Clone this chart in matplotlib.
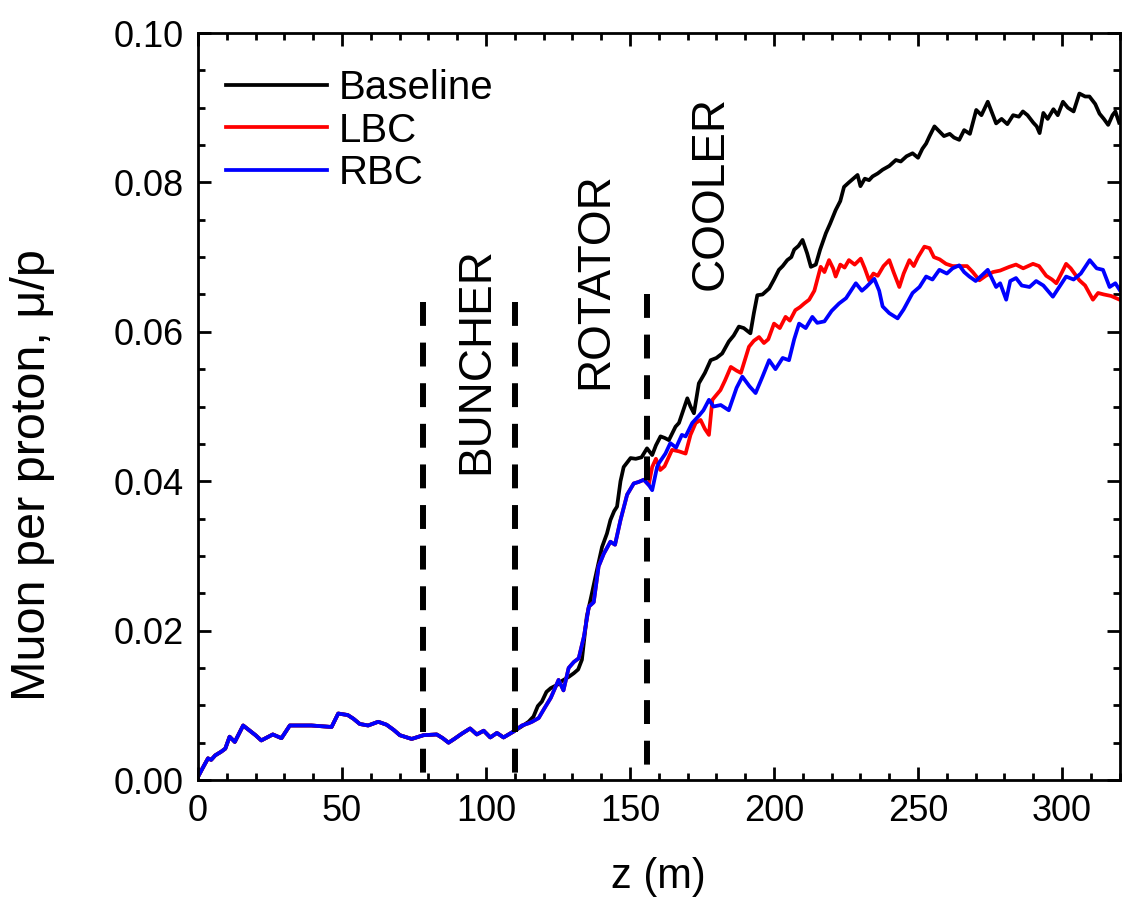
import numpy as np
import matplotlib
matplotlib.use("Agg")
import matplotlib.pyplot as plt
from matplotlib.ticker import MultipleLocator

plt.rcParams['font.family'] = ['Liberation Sans', 'DejaVu Sans']

# ---- data ----
# shared front-end section (all three lattices identical up to ~110 m)
z_common = [0, 1.5, 3.5, 4.6, 6, 8.1, 9.5, 11, 12.8, 15.7, 18, 20, 22, 24, 26, 29, 31.9, 35,
            39.4, 43, 46.4, 48.7, 52, 54, 56.2, 59.1, 62.6, 65.5, 68, 70.1, 74.2, 78.3, 82.9,
            85, 87, 89, 91.6, 94.5, 96.8, 99.2, 101.5, 103.8, 106.1, 109.6]
y_common = [0.0004, 0.0015, 0.0029, 0.0027, 0.0033, 0.0038, 0.0042, 0.0058, 0.0051, 0.0073,
            0.0066, 0.0060, 0.0053, 0.0057, 0.0061, 0.0056, 0.0073, 0.0073, 0.0073, 0.0072,
            0.0071, 0.0089, 0.0087, 0.0082, 0.0075, 0.0073, 0.0078, 0.0074, 0.0067, 0.0060,
            0.0055, 0.0060, 0.0061, 0.0056, 0.0050, 0.0055, 0.0062, 0.0069, 0.0061, 0.0066,
            0.0057, 0.0063, 0.0057, 0.0065]

# shared rotator section of LBC / RBC (110 - 157 m)
z_rot = [112.5, 114.8, 116, 118.3, 120.6, 122.5, 125.2, 126.9, 128.7, 130.5, 132.2, 134, 135.7,
         137.4, 139.1, 140.9, 143.2, 144.8, 146.7, 149, 151.3, 153, 154.8, 156.5]
y_rot = [0.0073, 0.0076, 0.0078, 0.0083, 0.0098, 0.0110, 0.0134, 0.0120, 0.0150, 0.0158, 0.0163,
         0.0192, 0.0232, 0.0238, 0.0286, 0.0303, 0.0319, 0.0315, 0.0348, 0.0382, 0.0397, 0.0399,
         0.0402, 0.0395]

z_rbc = [157.7, 159.4, 160, 162.3, 164, 166, 168, 169.3, 171.6, 174, 175.5, 177.4, 179, 181.5,
         184.3, 187, 189, 191.5, 193.6, 196, 198.3, 200.5, 203, 205.2, 207, 208.7, 211, 213.3,
         215, 217.5, 220, 222.6, 225, 228.4, 230.5, 232, 234.8, 236.5, 237.7, 240, 242.9, 245,
         248.1, 250.5, 252.8, 255, 257.4, 260, 262, 264.3, 266, 267.8, 270, 272, 274.2, 277.1,
         278.5, 280.6, 282, 284, 286, 288.7, 291, 293.5, 296.8, 299, 301.4, 304, 306.5, 309.6,
         312, 314.2, 316.5, 318.5, 320]
y_rbc = [0.0388, 0.0419, 0.0424, 0.0437, 0.0451, 0.0445, 0.0462, 0.0460, 0.0478, 0.0488, 0.0495,
         0.0509, 0.0500, 0.0502, 0.0495, 0.0525, 0.0540, 0.0527, 0.0518, 0.0540, 0.0562, 0.0550,
         0.0565, 0.0562, 0.0590, 0.0611, 0.0605, 0.0620, 0.0612, 0.0614, 0.0628, 0.0638, 0.0645,
         0.0665, 0.0655, 0.0660, 0.0671, 0.0655, 0.0634, 0.0625, 0.0618, 0.0630, 0.0652, 0.0660,
         0.0674, 0.0670, 0.0683, 0.0678, 0.0685, 0.0689, 0.0680, 0.0674, 0.0668, 0.0675, 0.0683,
         0.0660, 0.0665, 0.0643, 0.0668, 0.0672, 0.0662, 0.0660, 0.0668, 0.0662, 0.0647, 0.0660,
         0.0674, 0.0670, 0.0678, 0.0696, 0.0685, 0.0683, 0.0660, 0.0665, 0.0656]

z_lbc = [157.7, 159, 160.5, 162, 164.6, 167, 169.3, 171, 172.8, 174.5, 176, 177.4, 178.6, 181.4,
         183, 185, 187, 188.5, 191.3, 193, 194.8, 196.5, 198, 200, 202, 204, 205.5, 207.4, 209,
         210.5, 212.2, 214, 216.2, 217.5, 219.1, 220.5, 221.4, 223, 224.5, 226, 228, 230.1, 231.5,
         233, 234.5, 236, 238, 240, 241.5, 243.5, 245, 247, 248.5, 250, 252.2, 254, 255.5, 257.5,
         259.7, 262, 264.5, 267, 269, 271.3, 273.5, 276, 278.5, 281.7, 284, 286.5, 289.9, 292,
         294.5, 296.5, 298, 300, 301.4, 303, 306, 308, 310.7, 312.5, 314.5, 317, 320]
y_lbc = [0.0419, 0.0430, 0.0415, 0.0420, 0.0442, 0.0440, 0.0437, 0.0462, 0.0478, 0.0482, 0.0470,
         0.0462, 0.0509, 0.0522, 0.0535, 0.0553, 0.0548, 0.0545, 0.0580, 0.0588, 0.0593, 0.0585,
         0.0590, 0.0611, 0.0605, 0.0620, 0.0615, 0.0629, 0.0633, 0.0638, 0.0643, 0.0655, 0.0687,
         0.0680, 0.0696, 0.0685, 0.0674, 0.0690, 0.0686, 0.0696, 0.0690, 0.0698, 0.0685, 0.0669,
         0.0678, 0.0675, 0.0688, 0.0696, 0.0680, 0.0660, 0.0678, 0.0696, 0.0688, 0.0700, 0.0714,
         0.0712, 0.0700, 0.0697, 0.0691, 0.0688, 0.0688, 0.0688, 0.0680, 0.0669, 0.0675, 0.0680,
         0.0682, 0.0687, 0.0690, 0.0685, 0.0691, 0.0688, 0.0675, 0.0670, 0.0665, 0.0680, 0.0691,
         0.0685, 0.0669, 0.0662, 0.0643, 0.0652, 0.0650, 0.0648, 0.0643]

z_base = [112.5, 114.8, 116.5, 118, 119.4, 121, 122.5, 123.5, 125, 126.5, 128.7, 130.5, 132,
          133.3, 135, 136.5, 138, 140.3, 142, 143.2, 144.5, 145.5, 146.7, 147.8, 149, 150.2, 152,
          154, 155.9, 157.7, 159, 160.6, 162, 163.5, 165.8, 167, 168.5, 169.9, 171, 172.2, 173.9,
          176, 178, 180, 182, 184.3, 186, 187.8, 189.5, 191.8, 193, 194.2, 196, 198.3, 200, 201.7,
          203, 204.6, 206, 207, 208.5, 209.9, 211.5, 212.8, 214.5, 216, 218, 219.5, 221.4, 223,
          224.3, 226, 227.5, 229, 230, 231.5, 233, 234.2, 236, 237.7, 240, 242.3, 244, 246, 248.1,
          250, 251.5, 252.8, 254, 255.7, 257.5, 259, 261, 262.5, 264.3, 266, 268, 270.2, 272,
          274.2, 275.5, 277.1, 279, 281, 283, 285, 286.4, 288, 290, 291.2, 292.2, 293.5, 295, 297,
          298.5, 300.3, 302, 304, 306, 308, 309.5, 311.5, 313, 314.5, 316, 317.5, 318.5, 319.8]
y_base = [0.0072, 0.0078, 0.0085, 0.0099, 0.0105, 0.0118, 0.0123, 0.0125, 0.0128, 0.0133, 0.0138,
          0.0143, 0.0148, 0.0161, 0.0219, 0.0245, 0.0272, 0.0312, 0.0330, 0.0348, 0.0360, 0.0366,
          0.0400, 0.0419, 0.0425, 0.0431, 0.0430, 0.0432, 0.0444, 0.0435, 0.0448, 0.0460, 0.0458,
          0.0455, 0.0473, 0.0478, 0.0495, 0.0511, 0.0500, 0.0491, 0.0531, 0.0545, 0.0562, 0.0565,
          0.0571, 0.0587, 0.0595, 0.0607, 0.0605, 0.0598, 0.0625, 0.0649, 0.0650, 0.0658, 0.0670,
          0.0683, 0.0688, 0.0696, 0.0700, 0.0710, 0.0715, 0.0723, 0.0705, 0.0687, 0.0690, 0.0710,
          0.0732, 0.0745, 0.0763, 0.0775, 0.0794, 0.0800, 0.0805, 0.0810, 0.0795, 0.0805, 0.0803,
          0.0808, 0.0812, 0.0817, 0.0822, 0.0830, 0.0828, 0.0835, 0.0839, 0.0833, 0.0845, 0.0852,
          0.0862, 0.0875, 0.0868, 0.0862, 0.0865, 0.0860, 0.0857, 0.0870, 0.0865, 0.0897, 0.0890,
          0.0908, 0.0895, 0.0879, 0.0885, 0.0878, 0.0890, 0.0888, 0.0895, 0.0890, 0.0880, 0.0875,
          0.0866, 0.0893, 0.0885, 0.0898, 0.0890, 0.0908, 0.0900, 0.0895, 0.0919, 0.0915, 0.0915,
          0.0905, 0.0892, 0.0885, 0.0877, 0.0890, 0.0895, 0.0880]

series_names = ["Baseline", "LBC", "RBC"]
section_z = [78, 110, 156]
section_top = [0.064, 0.064, 0.065]
section_names = ["BUNCHER", "ROTATOR", "COOLER"]
section_label_z = [96.5, 138, 178]
section_label_y = [0.0562, 0.0668, 0.0786]

# ---- figure ----
fig = plt.figure(figsize=(11.31, 9.07), dpi=100)
ax = fig.add_axes([0.175, 0.140, 0.815, 0.8236])

zb = z_common + z_base
yb = y_common + y_base
zl = z_common + z_rot + z_lbc
yl = y_common + y_rot + y_lbc
zr = z_common + z_rot + z_rbc
yr = y_common + y_rot + y_rbc

lw = 2.7
ax.plot(zb, yb, color='#000000', lw=lw, label=series_names[0])
ax.plot(zl, yl, color='#ff0000', lw=lw, label=series_names[1])
ax.plot(zr, yr, color='#0000ff', lw=lw, label=series_names[2])

for zs, top in zip(section_z, section_top):
    ax.plot([zs, zs], [top, 0.0], color='black', lw=4.3, dashes=(4, 2.8),
            solid_capstyle='butt', dash_capstyle='butt', clip_on=False)

for name, xz, yz in zip(section_names, section_label_z, section_label_y):
    ax.text(xz, yz, name, rotation=90, ha='center', va='center', fontsize=33)

ax.set_xlim(0, 320)
ax.set_ylim(0, 0.10)
ax.xaxis.set_major_locator(MultipleLocator(50))
ax.xaxis.set_minor_locator(MultipleLocator(10))
ax.yaxis.set_major_locator(MultipleLocator(0.02))
ax.yaxis.set_minor_locator(MultipleLocator(0.005))
ax.yaxis.set_major_formatter(matplotlib.ticker.FormatStrFormatter('%.2f'))

ax.tick_params(which='both', direction='in', top=True, right=True, width=2.0)
ax.tick_params(which='major', length=9.5, labelsize=26)
ax.tick_params(axis='x', which='major', pad=10)
ax.tick_params(axis='y', which='major', pad=10)
ax.tick_params(which='minor', length=5)
for s in ax.spines.values():
    s.set_linewidth(2.0)

ax.set_xlabel('z (m)', fontsize=30, labelpad=20)
fig.text(33 / 1131, 1 - 475 / 907, 'Muon per proton, \u03bc/p', rotation=90,
         ha='center', va='center', fontsize=35)

leg = ax.legend(loc='upper left', bbox_to_anchor=(0.0, 0.99), frameon=False, fontsize=29,
                handlelength=2.5, handletextpad=0.3, labelspacing=0.12, borderaxespad=0.3)
for h in leg.get_lines():
    h.set_linewidth(2.7)

fig.savefig('out.png', dpi=100)
